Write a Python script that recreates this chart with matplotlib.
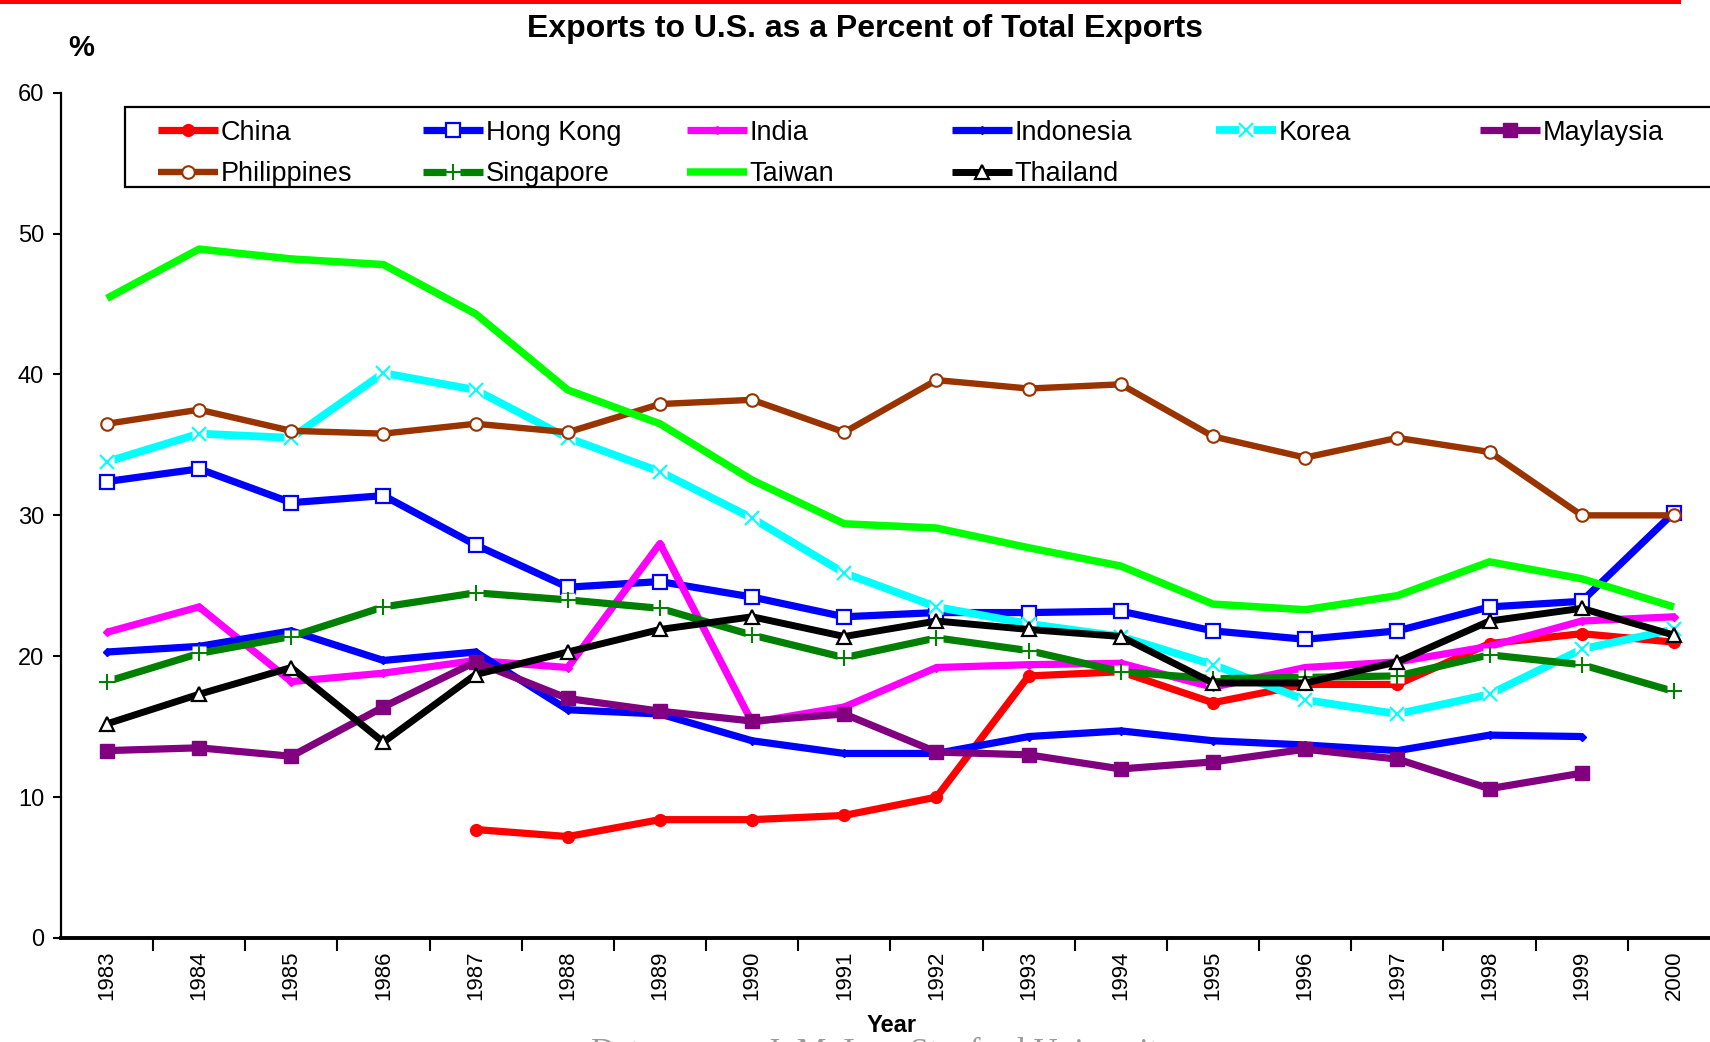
import matplotlib
matplotlib.use("Agg")
import matplotlib.pyplot as plt
from matplotlib.patches import Rectangle
from matplotlib.legend_handler import HandlerTuple
import numpy as np

plt.rcParams['font.family'] = ['Liberation Sans', 'DejaVu Sans']

years = [str(y) for y in range(1983, 2001)]

china = [None, None, None, None, 7.7, 7.2, 8.4, 8.4, 8.7, 10.0, 18.6, 18.9, 16.7, 18.0, 18.0, 20.9, 21.6, 21.0]
hong_kong = [32.4, 33.3, 30.9, 31.4, 27.9, 24.9, 25.3, 24.2, 22.8, 23.1, 23.1, 23.2, 21.8, 21.2, 21.8, 23.5, 23.9, 30.2]
india = [21.7, 23.5, 18.2, 18.8, 19.7, 19.2, 28.0, 15.3, 16.4, 19.2, 19.4, 19.5, 17.8, 19.2, 19.6, 20.7, 22.5, 22.8]
indonesia = [20.3, 20.7, 21.8, 19.7, 20.3, 16.2, 15.9, 14.0, 13.1, 13.1, 14.3, 14.7, 14.0, 13.7, 13.3, 14.4, 14.3, None]
korea = [33.8, 35.8, 35.5, 40.1, 38.9, 35.5, 33.1, 29.8, 25.9, 23.5, 22.3, 21.4, 19.4, 16.9, 15.9, 17.3, 20.5, 21.9]
malaysia = [13.3, 13.5, 12.9, 16.4, 19.6, 17.0, 16.1, 15.4, 15.9, 13.2, 13.0, 12.0, 12.5, 13.4, 12.7, 10.6, 11.7, None]
philippines = [36.5, 37.5, 36.0, 35.8, 36.5, 35.9, 37.9, 38.2, 35.9, 39.6, 39.0, 39.3, 35.6, 34.1, 35.5, 34.5, 30.0, 30.0]
singapore = [18.2, 20.2, 21.4, 23.5, 24.5, 24.0, 23.4, 21.5, 19.9, 21.3, 20.4, 18.9, 18.4, 18.5, 18.6, 20.1, 19.4, 17.5]
taiwan = [45.4, 48.9, 48.2, 47.8, 44.3, 38.9, 36.5, 32.5, 29.4, 29.1, 27.7, 26.4, 23.7, 23.3, 24.3, 26.7, 25.5, 23.5]
thailand = [15.2, 17.3, 19.2, 13.9, 18.7, 20.3, 21.9, 22.8, 21.4, 22.5, 21.9, 21.4, 18.1, 18.1, 19.6, 22.5, 23.4, 21.5]

names = ["China", "Hong Kong", "India", "Indonesia", "Korea", "Maylaysia",
         "Philippines", "Singapore", "Taiwan", "Thailand"]
values = [china, hong_kong, india, indonesia, korea, malaysia,
          philippines, singapore, taiwan, thailand]

styles = {
    "China":       dict(color="#FF0000", lw=5.2, marker="o", ms=8.5, mfc="#FF0000", mec="#FF0000", mew=1),
    "Hong Kong":   dict(color="#0000FF", lw=5.2, marker="s", ms=10, mfc="white", mec="#0000FF", mew=1.6),
    "India":       dict(color="#FF00FF", lw=5.2, marker="D", ms=4.5, mfc="#FF00FF", mec="#FF00FF", mew=1),
    "Indonesia":   dict(color="#0000FF", lw=5.2, marker="D", ms=4.5, mfc="#0000FF", mec="#0000FF", mew=1),
    "Korea":       dict(color="#00FFFF", lw=5.6, marker="x", ms=10, mfc="none", mec="#00FFFF", mew=1.5),
    "Maylaysia":   dict(color="#800080", lw=5.2, marker="s", ms=10.5, mfc="#800080", mec="#800080", mew=1),
    "Philippines": dict(color="#993300", lw=4.6, marker="o", ms=9, mfc="white", mec="#993300", mew=1.5),
    "Singapore":   dict(color="#008000", lw=5.2, marker="+", ms=11, mfc="none", mec="#008000", mew=1.5),
    "Taiwan":      dict(color="#00FF00", lw=5.4, marker=None, ms=0, mfc="none", mec="#00FF00", mew=1),
    "Thailand":    dict(color="#000000", lw=5.0, marker="^", ms=9.5, mfc="white", mec="#000000", mew=1.6),
}
gap_series = {"Korea", "Singapore"}

W, H = 1710, 1042
fig = plt.figure(figsize=(W / 100, H / 100), dpi=100)
ax = fig.add_axes([60.8 / W, 1 - 938 / H, (1720 - 60.8) / W, (938 - 92.7) / H])

x = np.arange(len(years))
handles = {}
for i, (name, vals) in enumerate(zip(names, values)):
    st = styles[name]
    y = np.array([np.nan if v is None else v for v in vals], dtype=float)
    z = 2 + i
    line, = ax.plot(x, y, color=st["color"], lw=st["lw"], solid_capstyle="butt",
                    solid_joinstyle="round", zorder=z, clip_on=False)
    parts = [line]
    if name in gap_series:
        bg, = ax.plot(x, y, ls="none", marker="s", ms=st["ms"] * 0.95, mfc="white",
                      mec="none", zorder=z + 0.1, clip_on=False)
        parts.append(bg)
    if st["marker"] is not None:
        mk, = ax.plot(x, y, ls="none", marker=st["marker"], ms=st["ms"], mfc=st["mfc"],
                      mec=st["mec"], mew=st["mew"], zorder=z + 0.2, clip_on=False)
        parts.append(mk)
    handles[name] = tuple(parts)

ax.set_xlim(-0.5, len(years) - 0.5)
ax.set_ylim(0, 60)
ax.set_yticks(range(0, 61, 10))
ax.tick_params(axis="y", direction="out", length=6, width=1.5, pad=6, labelsize=17)
ax.set_xticks(np.arange(len(years)) + 0.5)
ax.set_xticklabels([])
ax.set_xticks(x, minor=True)
ax.set_xticklabels(years, minor=True, rotation=90)
ax.tick_params(axis="x", which="major", direction="out", length=9.5, width=1.5)
ax.tick_params(axis="x", which="minor", length=0, pad=9, labelsize=16)
for s in ["top", "right"]:
    ax.spines[s].set_visible(False)
ax.spines["left"].set_linewidth(1.6)
ax.spines["bottom"].set_linewidth(2.8)

fig.text(865 / W, 1 - 29 / H, "Exports to U.S. as a Percent of Total Exports",
         ha="center", va="center", fontsize=23, fontweight="bold")
fig.text(81 / W, 1 - 48 / H, "%", ha="center", va="center", fontsize=21, fontweight="bold")
fig.text(892 / W, 1 - 1026 / H, "Year", ha="center", va="center", fontsize=17, fontweight="bold")
fig.text(883 / W, 1 - 1037 / H, "Data source: J. M. Lee, Stanford University",
         ha="center", va="top", fontsize=24, color="#9a9a9a", family="Liberation Serif")

# top red rule
fig.add_artist(Rectangle((0, 1 - 3.6 / H), 1681 / W, 3.6 / H, transform=fig.transFigure,
                         facecolor="#FF0000", edgecolor="none", zorder=3))

# legend frame
fig.add_artist(Rectangle((125.4 / W, 1 - 186.5 / H), (1800 - 125.4) / W, (186.5 - 106.9) / H,
                         transform=fig.transFigure, facecolor="white", edgecolor="black",
                         lw=1.6, zorder=4, clip_on=False))

columns = [["China", "Philippines"], ["Hong Kong", "Singapore"], ["India", "Taiwan"],
           ["Indonesia", "Thailand"], ["Korea"], ["Maylaysia"]]
col_x = [158, 423, 687, 952, 1216, 1480]
for cx, col in zip(col_x, columns):
    leg = fig.legend([handles[n] for n in col], col, loc="upper left",
                     bbox_to_anchor=(cx / W, 1 - 119.5 / H), bbox_transform=fig.transFigure,
                     frameon=False, borderpad=0, borderaxespad=0, fontsize=19.5,
                     handlelength=2.2, handletextpad=0.12, labelspacing=0.58,
                     numpoints=1, handler_map={tuple: HandlerTuple(ndivide=1)})
    leg.set_zorder(5)

fig.savefig("out.png", dpi=100)
